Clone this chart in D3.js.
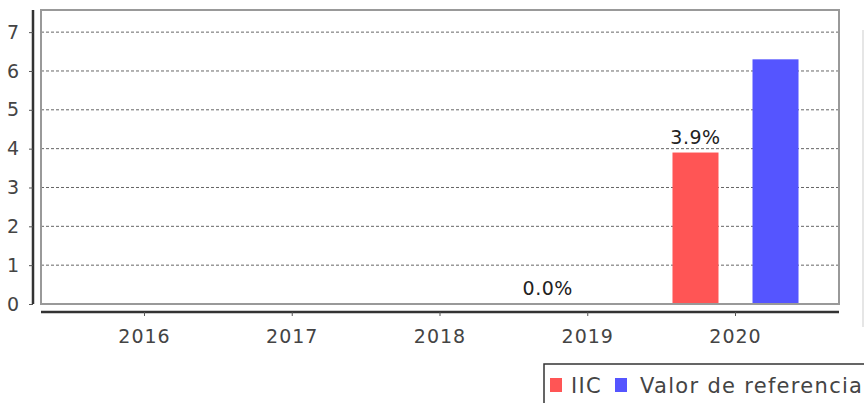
<!DOCTYPE html>
<html><head><meta charset="utf-8">
<script src="https://cdn.jsdelivr.net/npm/d3@7"></script>
<style>body{margin:0;background:#fff}svg{display:block}text{font-family:"DejaVu Sans",sans-serif}</style>
</head><body><svg id="c" width="864" height="403"></svg>
<script>
const categories = ["2016","2017","2018","2019","2020"];
const seriesNames = ["IIC","Valor de referencia"];
const iicValues = [null,null,null,0.0,3.9];
const refValues = [null,null,null,null,6.3];
const yTicks = [0,1,2,3,4,5,6,7];
const colors = ["#ff5555","#5555ff"];

const svg = d3.select("#c");
const L=41,R=839,T=10,B=304;
const x = d3.scaleBand().domain(categories).range([L,R]).paddingInner(0.147).paddingOuter(0.274);
const xs = d3.scaleBand().domain(seriesNames).range([0,x.bandwidth()]).paddingInner(0.425);
const y = d3.scaleLinear().domain([0,7.57]).range([B,T]);

// plot background & grid
svg.append("rect").attr("x",L).attr("y",T).attr("width",R-L).attr("height",B-T).attr("fill","#fff");
svg.append("g").selectAll("line").data(yTicks.filter(d=>d>0)).join("line")
  .attr("x1",L).attr("x2",R).attr("y1",d=>y(d)).attr("y2",d=>y(d))
  .attr("stroke","#666").attr("stroke-width",1).attr("stroke-dasharray","3,2");

// bars
const data = [];
categories.forEach((c,i)=>{
  [iicValues,refValues].forEach((arr,j)=>{ if(arr[i]!=null) data.push({c,s:seriesNames[j],v:arr[i],j}); });
});
svg.append("g").selectAll("rect").data(data).join("rect")
  .attr("x",d=>x(d.c)+xs(d.s)).attr("width",xs.bandwidth())
  .attr("y",d=>y(d.v)).attr("height",d=>B-y(d.v)).attr("fill",d=>colors[d.j]);
svg.append("g").selectAll("text").data(data.filter(d=>d.j===0)).join("text")
  .attr("x",d=>x(d.c)+xs(d.s)+xs.bandwidth()/2).attr("y",d=>y(d.v)-9)
  .attr("text-anchor","middle").attr("font-size",19).attr("letter-spacing",0.5).attr("fill","#222")
  .text(d=>d.v.toFixed(1)+"%");

// plot border
svg.append("rect").attr("x",L).attr("y",T).attr("width",R-L).attr("height",B-T)
  .attr("fill","none").attr("stroke","#999").attr("stroke-width",2);

// y axis
const ya = svg.append("g").attr("transform","translate(33,0)")
  .call(d3.axisLeft(y).tickValues(yTicks).tickSize(4).tickPadding(10).tickFormat(d3.format("d")));
ya.select(".domain").attr("d",`M0,${T}V${B}`).attr("stroke","#333").attr("stroke-width",2.5);
ya.selectAll(".tick line").attr("stroke","#555");
ya.selectAll(".tick text").attr("font-size",19).attr("fill","#444").attr("font-family","DejaVu Sans");

// x axis
const xa = svg.append("g").attr("transform","translate(0,312)")
  .call(d3.axisBottom(x).tickSize(4).tickPadding(10));
xa.select(".domain").attr("d",`M${L},0H${R}`).attr("stroke","#333").attr("stroke-width",2.5);
xa.selectAll(".tick line").attr("stroke","#555");
xa.selectAll(".tick text").attr("font-size",19).attr("letter-spacing",1).attr("fill","#444").attr("font-family","DejaVu Sans").attr("dy","0.9em");

// faint right line
svg.append("line").attr("x1",863).attr("x2",863).attr("y1",30).attr("y2",327).attr("stroke","#e6e6e6").attr("stroke-width",2);

// legend
const lg = svg.append("g");
lg.append("rect").attr("x",544).attr("y",364).attr("width",340).attr("height",60)
  .attr("fill","#fff").attr("stroke","#333").attr("stroke-width",1.5);
const items = [{n:seriesNames[0],c:colors[0],sx:550,tx:571},{n:seriesNames[1],c:colors[1],sx:615,tx:640}];
items.forEach(it=>{
  lg.append("rect").attr("x",it.sx).attr("y",378).attr("width",12).attr("height",14).attr("fill",it.c);
  lg.append("text").attr("x",it.tx).attr("y",393).attr("font-size",21).attr("letter-spacing",1.3).attr("fill","#444").text(it.n);
});
</script></body></html>
